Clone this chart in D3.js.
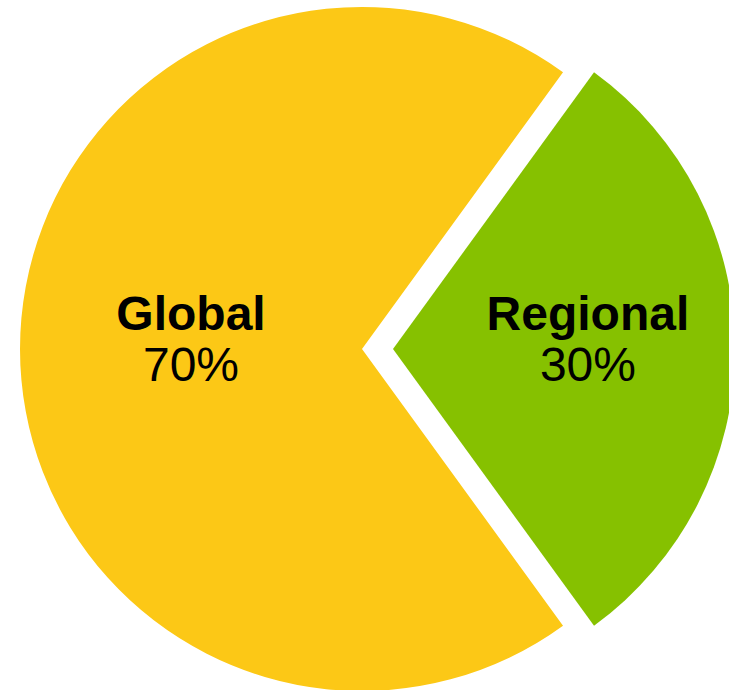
<!DOCTYPE html>
<html>
<head>
<meta charset="utf-8">
<script src="https://cdn.jsdelivr.net/npm/d3@7"></script>
<style>
  html, body { margin: 0; padding: 0; background: #fff; }
  svg { display: block; }
</style>
</head>
<body>
<svg id="chart" width="729" height="690"></svg>
<script>
// Share of activity by scope
const categories = ["Regional", "Global"];
const shares = [30, 70];
const percentLabels = ["30%", "70%"];
const colors = ["#86C100", "#FCC816"];

const svg = d3.select("#chart");
const cx = 362, cy = 349, radius = 342;
const explode = 31; // Regional slice pulled out from the centre

// Regional slice centred on the right-hand side (90°)
const startAngle = Math.PI / 2 - (shares[0] / d3.sum(shares)) * Math.PI;
const pie = d3.pie()
  .sort(null)
  .value(d => d)
  .startAngle(startAngle)
  .endAngle(startAngle + 2 * Math.PI);

const arcs = pie(shares);
const arc = d3.arc().innerRadius(0).outerRadius(radius);

const g = svg.append("g").attr("transform", `translate(${cx},${cy})`);

const slices = g.selectAll("g.slice")
  .data(arcs)
  .join("g")
  .attr("class", "slice")
  .attr("transform", (d, i) => {
    if (i !== 0) return null;
    const mid = (d.startAngle + d.endAngle) / 2;
    return `translate(${Math.sin(mid) * explode},${-Math.cos(mid) * explode})`;
  });

slices.append("path")
  .attr("d", arc)
  .attr("fill", (d, i) => colors[i]);

// Labels: category name in bold, percentage below
const labelFactor = [0.57, 0.5];
slices.each(function(d, i) {
  const mid = (d.startAngle + d.endAngle) / 2;
  const lr = radius * labelFactor[i];
  const lx = Math.sin(mid) * lr;
  const ly = -Math.cos(mid) * lr;
  const t = d3.select(this).append("text")
    .attr("text-anchor", "middle")
    .attr("font-family", "'Liberation Sans', Arial, sans-serif")
    .attr("fill", "#000");
  t.append("tspan")
    .attr("x", lx)
    .attr("y", ly - 19)
    .attr("font-weight", "bold")
    .attr("font-size", 48)
    .text(categories[i]);
  t.append("tspan")
    .attr("x", lx)
    .attr("y", ly + 32)
    .attr("font-size", 48)
    .text(percentLabels[i]);
});
</script>
</body>
</html>
